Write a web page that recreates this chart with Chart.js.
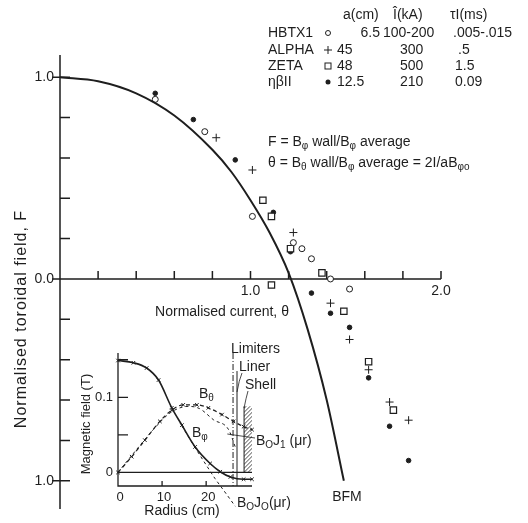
<!DOCTYPE html>
<html>
<head>
<meta charset="utf-8">
<script src="https://cdn.jsdelivr.net/npm/chart.js@4.4.0/dist/chart.umd.min.js"></script>
<style>
  body { margin: 0; background: #fff; }
  #wrap { position: relative; width: 528px; height: 523px; }
  #main, #inset { position: absolute; left: 0; top: 0; }
</style>
</head>
<body>
<div id="wrap">
  <canvas id="main" width="528" height="523"></canvas>
  <canvas id="inset" width="528" height="523"></canvas>
</div>
<script>
// --- main plot data (theta, F) ---
const bfmTheta = [0, 0.2, 0.4, 0.6, 0.8, 0.9, 1.0, 1.1, 1.2, 1.3, 1.4, 1.49];
const bfmF     = [1.0, 0.98, 0.92, 0.81, 0.64, 0.53, 0.39, 0.23, 0.03, -0.25, -0.6, -1.0];

const hbtxTheta = [0.50, 0.76, 1.01, 1.225, 1.27, 1.32, 1.42, 1.52];
const hbtxF     = [0.89, 0.73, 0.31, 0.18, 0.15, 0.10, 0.0, -0.05];

const alphaTheta = [0.82, 1.01, 1.225, 1.42, 1.52, 1.62, 1.73, 1.83];
const alphaF     = [0.70, 0.54, 0.23, -0.12, -0.30, -0.45, -0.61, -0.70];

const zetaTheta = [1.065, 1.11, 1.21, 1.375, 1.11, 1.49, 1.62, 1.75];
const zetaF     = [0.39, 0.31, 0.15, 0.03, -0.03, -0.16, -0.41, -0.65];

const etaTheta = [0.50, 0.70, 0.92, 1.12, 1.21, 1.32, 1.42, 1.52, 1.62, 1.73, 1.83];
const etaF     = [0.92, 0.79, 0.59, 0.33, 0.135, -0.07, -0.17, -0.24, -0.49, -0.73, -0.90];

const xTicks = [0.2, 0.4, 0.6, 0.8, 1.0, 1.2, 1.4, 1.6, 1.8, 2.0];
const xTickLabels = ['1.0', '2.0'];
const xLabelValues = [1.0, 2.0];
const yTicks = [-1.0, -0.8, -0.6, -0.4, -0.2, 0, 0.2, 0.4, 0.6, 0.8, 1.0];
const yLabelValues = [1.0, 0, -1.0];
const yTickLabels = ['1.0', '0.0', '1.0'];

// legend table
const machines = ['HBTX1', 'ALPHA', 'ZETA', 'ηβII'];
const radiusCm = ['6.5', '45', '48', '12.5'];
const currentKA = ['100-200', '300', '500', '210'];
const riseMs = ['.005-.015', '.5', '1.5', '0.09'];

// --- inset data (radius cm, field T) ---
const bphiR = [0, 3.5, 6.5, 9.2, 12.2, 14.5, 17.5, 20.9, 23.2, 25.5, 28.5, 30.4];
const bphiB = [0.149, 0.146, 0.139, 0.123, 0.086, 0.063, 0.034, 0.012, 0.001, -0.006, -0.009, -0.009];
const bthetaR = [0, 3.1, 6.1, 9.5, 12.2, 14.8, 17.9, 20.5, 23.6, 26.2, 28.5, 30.4];
const bthetaB = [0, 0.021, 0.043, 0.068, 0.083, 0.090, 0.090, 0.086, 0.077, 0.068, 0.061, 0.057];
const j1R = [0, 4, 8, 12, 16, 18.5, 21.7, 25.1, 26.6];
const j1B = [0, 0.029, 0.057, 0.080, 0.088, 0.085, 0.070, 0.057, 0.034];
const j0R = [14.5, 17.5, 20, 22, 24, 26.6];
const j0B = [0.062, 0.033, 0.010, -0.008, -0.024, -0.045];
const insetXTicks = [0, 10, 20];
const insetYTicks = [0.05, 0.1, 0.15];
const insetYLabelValues = [0, 0.1];
const insetYLabels = ['0', '0.1'];
const limiterR = 26.1, linerR = 27.0, shellR = [28.6, 30.4];

const ink = '#1e1e1e';
const fam = '"Liberation Sans", Arial, sans-serif';

function pts(xs, ys) { return xs.map((v, i) => ({ x: v, y: ys[i] })); }

function subText(ctx, parts, x, y, size) {
    let cx = x;
    parts.forEach(([t, sub]) => {
        ctx.font = (sub ? Math.round(size * 0.72) : size) + 'px ' + fam;
        ctx.fillText(t, cx, sub ? y + size * 0.28 : y);
        cx += ctx.measureText(t).width;
    });
}

const mainAxes = {
    id: 'mainAxes',
    beforeDatasetsDraw(chart) {
        const { ctx, scales: { x, y } } = chart;
        const x0 = x.getPixelForValue(0), y0 = y.getPixelForValue(0);
        ctx.save();
        ctx.strokeStyle = ink;
        ctx.lineWidth = 1.5;
        ctx.beginPath();
        ctx.moveTo(x0, y.getPixelForValue(1.11));
        ctx.lineTo(x0, y.getPixelForValue(-1.14));
        ctx.moveTo(x0, y0);
        ctx.lineTo(x.getPixelForValue(2.0), y0);
        xTicks.forEach(v => {
            const px = x.getPixelForValue(v);
            ctx.moveTo(px, y0);
            ctx.lineTo(px, y0 - 8);
        });
        yTicks.forEach(v => {
            const py = y.getPixelForValue(v);
            const lab = yLabelValues.includes(v);
            ctx.moveTo(lab ? x0 - 8 : x0, py);
            ctx.lineTo(x0 + 10, py);
        });
        ctx.stroke();

        ctx.fillStyle = ink;
        ctx.font = '14px ' + fam;
        ctx.textBaseline = 'middle';
        ctx.textAlign = 'right';
        yLabelValues.forEach((v, i) => ctx.fillText(yTickLabels[i], x0 - 6, y.getPixelForValue(v)));
        ctx.textAlign = 'center';
        xLabelValues.forEach((v, i) => ctx.fillText(xTickLabels[i], x.getPixelForValue(v), y0 + 12));
        ctx.fillText('Normalised current, θ', 222, 312);
        ctx.fillText('BFM', 347, 497);
        ctx.save();
        ctx.translate(22, 319);
        ctx.rotate(-Math.PI / 2);
        ctx.font = '16px ' + fam;
        ctx.letterSpacing = '1px';
        ctx.fillText('Normalised toroidal field, F', 0, 0);
        ctx.restore();
        ctx.restore();
    },
    afterDraw(chart) {
        const { ctx } = chart;
        ctx.save();
        ctx.fillStyle = ink;
        ctx.strokeStyle = ink;
        ctx.textBaseline = 'middle';
        ctx.font = '14px ' + fam;
        ctx.textAlign = 'left';
        ctx.fillText('a(cm)', 343, 15);
        ctx.fillText('Î(kA)', 393, 15);
        ctx.fillText('τI(ms)', 450, 15);
        const rows = [33, 50, 66, 82];
        rows.forEach((ry, i) => {
            ctx.textAlign = 'left';
            ctx.fillText(machines[i], 268, ry);
            if (i === 0) {
                ctx.textAlign = 'right';
                ctx.fillText(radiusCm[i], 380, ry);
                ctx.textAlign = 'left';
                ctx.fillText(currentKA[i], 383, ry);
                ctx.fillText(riseMs[i], 453, ry);
            } else {
                ctx.fillText(radiusCm[i], 337, ry);
                ctx.fillText(currentKA[i], 400, ry);
                ctx.fillText(riseMs[i], i === 1 ? 458 : 455, ry);
            }
        });
        // legend symbols
        ctx.lineWidth = 1;
        ctx.beginPath(); ctx.arc(328, 33, 2.5, 0, Math.PI * 2); ctx.stroke();
        ctx.beginPath();
        ctx.moveTo(324, 50); ctx.lineTo(332, 50);
        ctx.moveTo(328, 46); ctx.lineTo(328, 54);
        ctx.stroke();
        ctx.strokeRect(325, 63, 6, 6);
        ctx.beginPath(); ctx.arc(328, 82, 2.5, 0, Math.PI * 2); ctx.fill();

        ctx.textAlign = 'left';
        subText(ctx, [['F = B', 0], ['φ', 1], [' wall/B', 0], ['φ', 1], [' average', 0]], 268, 142, 14);
        subText(ctx, [['θ = B', 0], ['θ', 1], [' wall/B', 0], ['φ', 1], [' average = 2I/aB', 0], ['φo', 1]], 268, 163, 14);
        ctx.restore();
    }
};

new Chart(document.getElementById('main'), {
    type: 'scatter',
    data: {
        datasets: [
            { label: 'BFM', data: pts(bfmTheta, bfmF), showLine: true, pointRadius: 0,
              borderColor: ink, borderWidth: 2, cubicInterpolationMode: 'monotone', clip: false },
            { label: 'HBTX1', data: pts(hbtxTheta, hbtxF), pointStyle: 'circle', pointRadius: 3,
              borderColor: ink, backgroundColor: '#fff', borderWidth: 1 },
            { label: 'ALPHA', data: pts(alphaTheta, alphaF), pointStyle: 'cross', pointRadius: 4,
              borderColor: ink, borderWidth: 1 },
            { label: 'ZETA', data: pts(zetaTheta, zetaF), pointStyle: 'rect', pointRadius: 4.5,
              borderColor: ink, backgroundColor: '#fff', borderWidth: 1.2 },
            { label: 'ηβII', data: pts(etaTheta, etaF), pointStyle: 'circle', pointRadius: 2.3,
              borderColor: ink, backgroundColor: ink, borderWidth: 1 }
        ]
    },
    options: {
        responsive: false,
        animation: false,
        layout: { padding: { left: 60, right: 87, top: 57, bottom: 12 } },
        scales: {
            x: { type: 'linear', min: 0, max: 2.0, display: false },
            y: { type: 'linear', min: -1.15, max: 1.1, display: false }
        },
        plugins: { legend: { display: false }, tooltip: { enabled: false } }
    },
    plugins: [mainAxes]
});

// inset drawn on a transparent overlay canvas, chart area set by padding
const insetAxes = {
    id: 'insetAxes',
    beforeDatasetsDraw(chart) {
        const { ctx, scales: { x, y } } = chart;
        const left = x.getPixelForValue(0), right = x.getPixelForValue(30.4);
        const top = y.getPixelForValue(0.159), bottom = y.getPixelForValue(-0.018);
        const y0 = y.getPixelForValue(0);
        ctx.save();
        ctx.strokeStyle = ink;
        ctx.lineWidth = 1.3;
        ctx.beginPath();
        ctx.moveTo(left, top); ctx.lineTo(left, bottom); ctx.lineTo(right, bottom);
        ctx.moveTo(left, y0); ctx.lineTo(right, y0);
        insetYTicks.forEach(v => {
            const py = y.getPixelForValue(v);
            ctx.moveTo(left, py); ctx.lineTo(left + 10, py);
        });
        insetXTicks.forEach(v => {
            const px = x.getPixelForValue(v);
            ctx.moveTo(px, bottom); ctx.lineTo(px, bottom - 5);
        });
        ctx.stroke();

        // liner and shell
        const lx = x.getPixelForValue(linerR);
        const s0 = x.getPixelForValue(shellR[0]), s1 = x.getPixelForValue(shellR[1]);
        const sTop = y.getPixelForValue(0.088);
        ctx.lineWidth = 1;
        ctx.beginPath();
        ctx.moveTo(lx, y.getPixelForValue(0.135)); ctx.lineTo(lx, bottom);
        ctx.moveTo(s0, sTop); ctx.lineTo(s0, y0);
        ctx.stroke();
        ctx.save();
        ctx.beginPath();
        ctx.rect(s0, sTop, s1 - s0, y0 - sTop);
        ctx.clip();
        ctx.lineWidth = 0.8;
        ctx.beginPath();
        for (let k = -20; k < 90; k += 4) {
            ctx.moveTo(s0 - 2, sTop + k);
            ctx.lineTo(s1 + 2, sTop + k - (s1 - s0 + 4));
        }
        ctx.stroke();
        ctx.restore();
        // limiters, dash-dot
        const limx = x.getPixelForValue(limiterR);
        ctx.setLineDash([6, 2, 1, 2]);
        ctx.beginPath();
        ctx.moveTo(limx, top); ctx.lineTo(limx, bottom);
        ctx.stroke();
        ctx.setLineDash([]);
        // leader lines
        ctx.lineWidth = 0.8;
        ctx.beginPath();
        ctx.moveTo(242, 373); ctx.quadraticCurveTo(239, 380, lx, 392);
        ctx.moveTo(248, 391); ctx.quadraticCurveTo(246, 398, s0, 408);
        ctx.moveTo(x.getPixelForValue(24.8), 434); ctx.lineTo(255, 438);
        ctx.stroke();

        ctx.fillStyle = ink;
        ctx.font = '13px ' + fam;
        ctx.textBaseline = 'middle';
        ctx.textAlign = 'right';
        insetYLabelValues.forEach((v, i) => ctx.fillText(insetYLabels[i], left - 5, y.getPixelForValue(v)));
        ctx.textAlign = 'center';
        insetXTicks.forEach(v => ctx.fillText(String(v), x.getPixelForValue(v) + 2, bottom + 11));
        ctx.font = '14px ' + fam;
        ctx.fillText('Radius (cm)', 182, 511);
        ctx.save();
        ctx.translate(86, 424);
        ctx.rotate(-Math.PI / 2);
        ctx.font = '13px ' + fam;
        ctx.fillText('Magnetic field (T)', 0, 0);
        ctx.restore();
        ctx.textAlign = 'left';
        ctx.font = '14px ' + fam;
        ctx.fillText('Limiters', 231, 349);
        ctx.fillText('Liner', 239, 367);
        ctx.fillText('Shell', 245, 385);
        subText(ctx, [['B', 0], ['θ', 1]], 199, 394, 14);
        subText(ctx, [['B', 0], ['φ', 1]], 192, 433, 14);
        subText(ctx, [['B', 0], ['O', 1], ['J', 0], ['1', 1], [' (μr)', 0]], 256, 441, 14);
        subText(ctx, [['B', 0], ['O', 1], ['J', 0], ['O', 1], ['(μr)', 0]], 237, 503, 14);
        ctx.restore();
    }
};

new Chart(document.getElementById('inset'), {
    type: 'scatter',
    data: {
        datasets: [
            { label: 'Bphi', data: pts(bphiR, bphiB), showLine: true, borderColor: ink, borderWidth: 1.6,
              pointStyle: 'crossRot', pointRadius: 2.5, pointBorderWidth: 1, cubicInterpolationMode: 'monotone', clip: false },
            { label: 'Btheta', data: pts(bthetaR, bthetaB), showLine: true, borderColor: ink, borderWidth: 1.2,
              borderDash: [4, 3], pointStyle: 'crossRot', pointRadius: 2.5, pointBorderWidth: 1,
              cubicInterpolationMode: 'monotone', clip: false },
            { label: 'B0J1', data: pts(j1R, j1B), showLine: true, borderColor: ink, borderWidth: 1,
              borderDash: [3, 3], pointRadius: 0, cubicInterpolationMode: 'monotone', clip: false },
            { label: 'B0J0', data: pts(j0R, j0B), showLine: true, borderColor: ink, borderWidth: 1,
              borderDash: [3, 3], pointRadius: 0, cubicInterpolationMode: 'monotone', clip: false }
        ]
    },
    options: {
        responsive: false,
        animation: false,
        layout: { padding: { left: 118, right: 276, top: 353, bottom: 37 } },
        scales: {
            x: { type: 'linear', min: 0, max: 30.4, display: false },
            y: { type: 'linear', min: -0.018, max: 0.159, display: false }
        },
        plugins: { legend: { display: false }, tooltip: { enabled: false } }
    },
    plugins: [insetAxes]
});
</script>
</body>
</html>
